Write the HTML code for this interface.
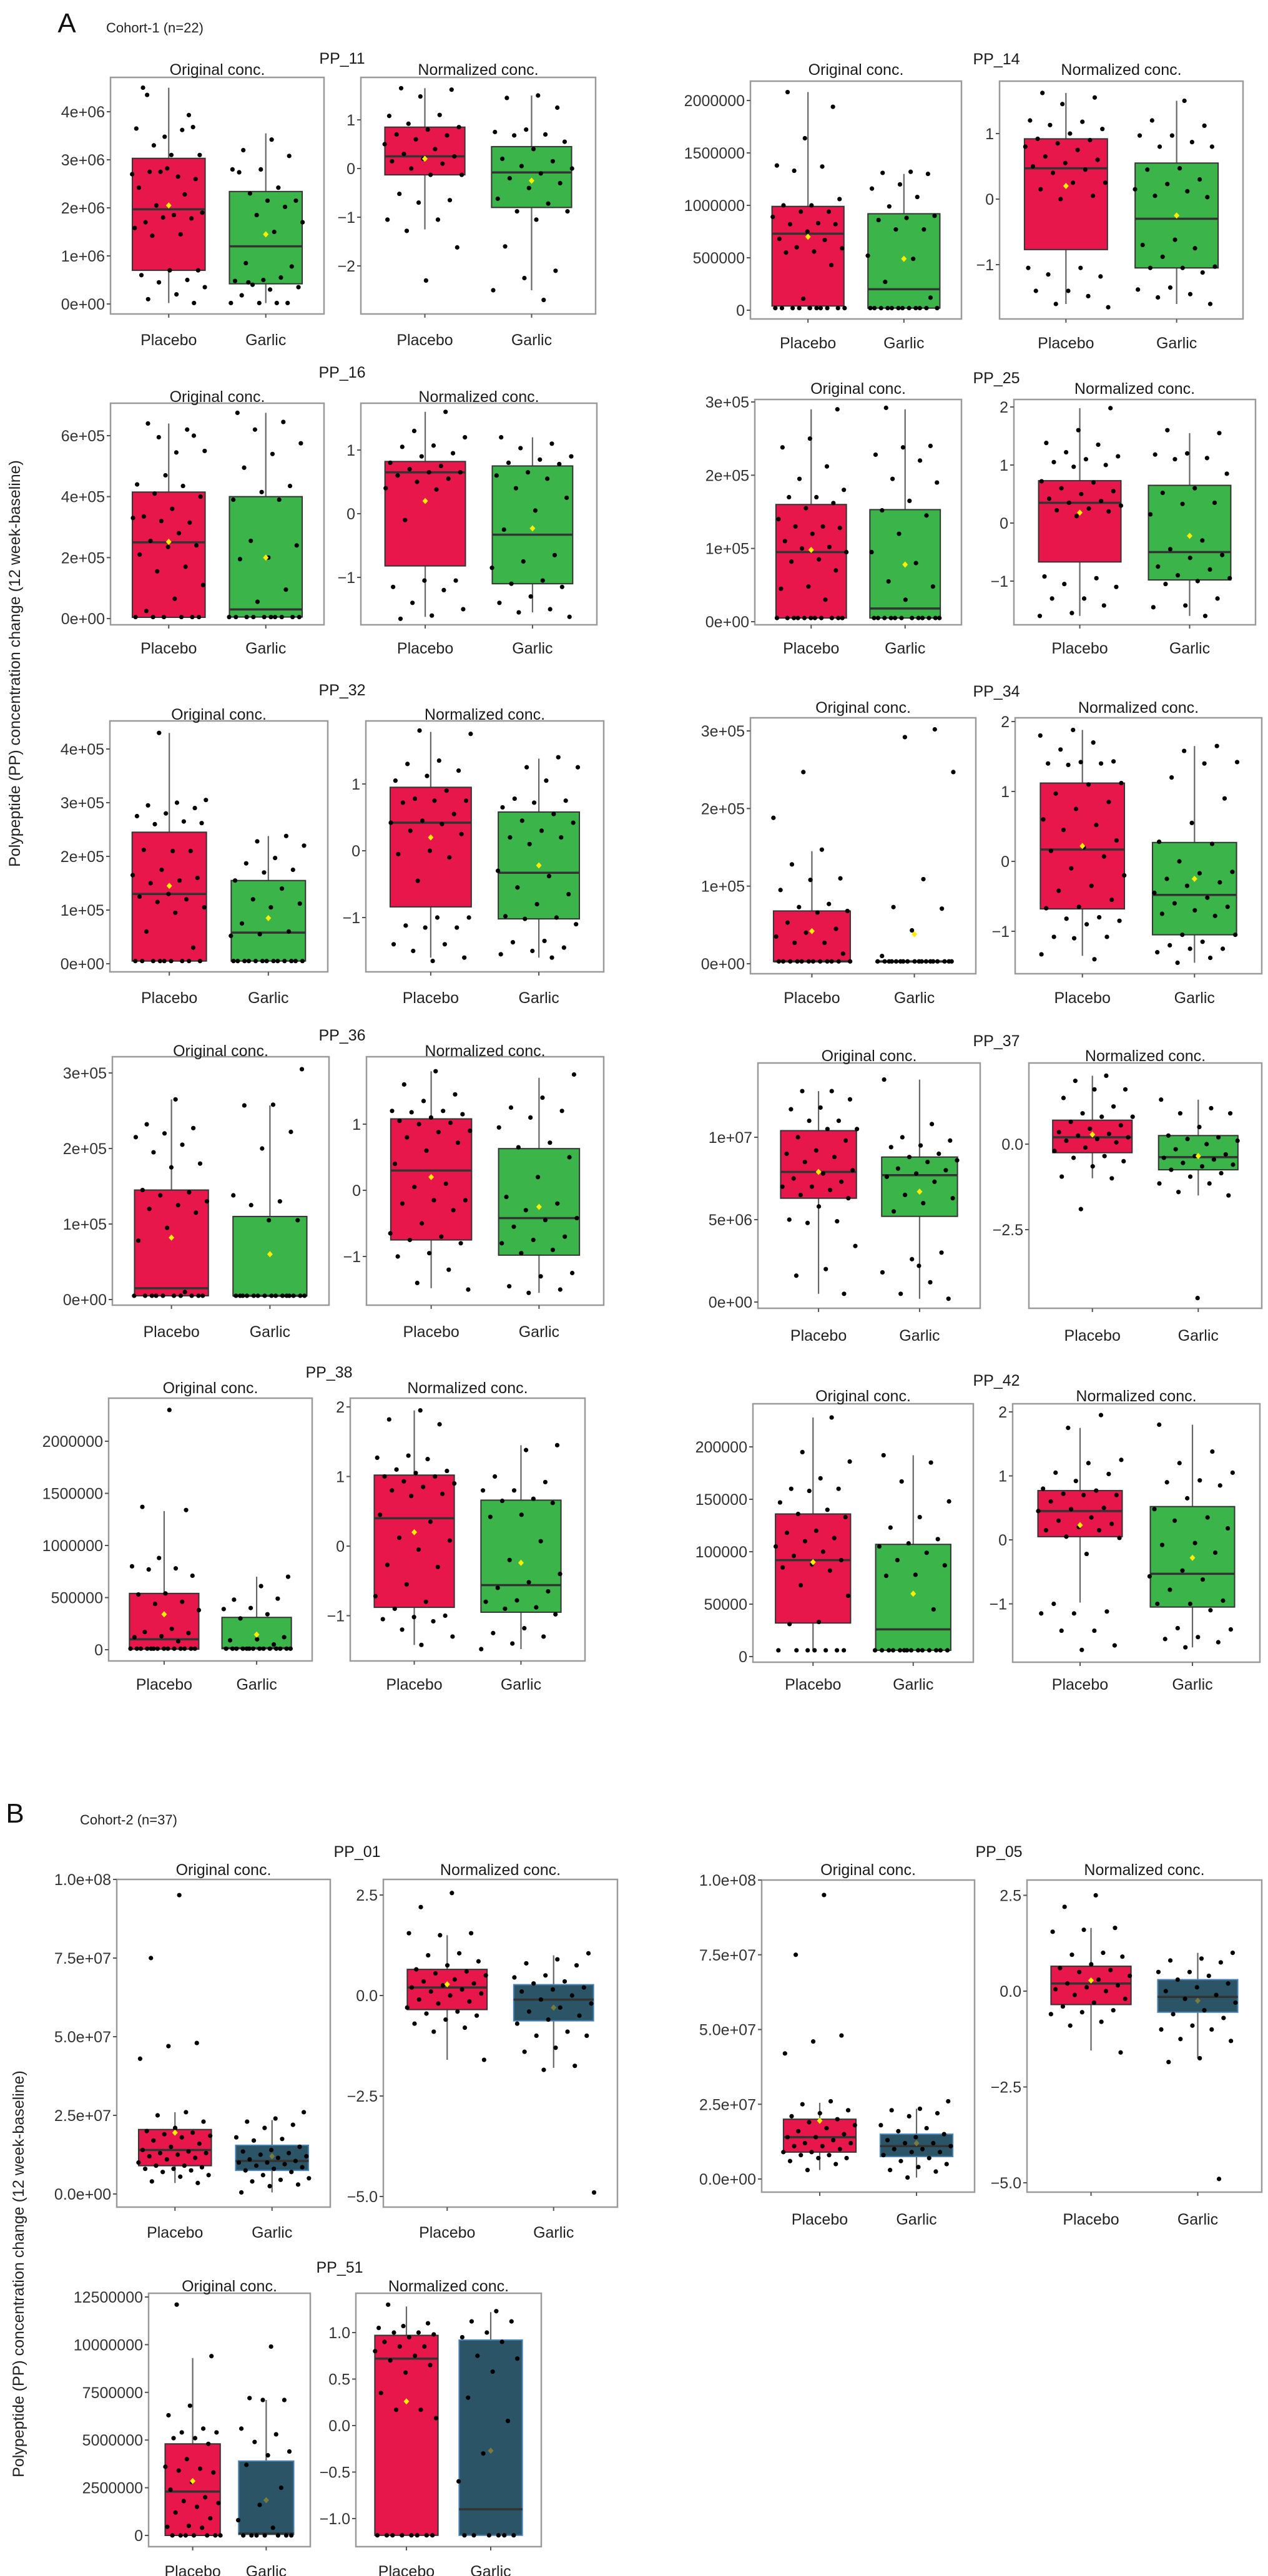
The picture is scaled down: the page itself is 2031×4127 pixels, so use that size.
<!DOCTYPE html>
<html><head><meta charset="utf-8">
<style>
html,body{margin:0;padding:0;background:#fff;}
svg{display:block;font-family:"Liberation Sans",Arial,sans-serif;}
</style></head>
<body>
<svg id="fig" width="2031" height="4127" viewBox="0 0 2031 4127" xmlns="http://www.w3.org/2000/svg">
<rect x="0" y="0" width="2031" height="4127" fill="#fff"/>
<text x="107" y="52" font-size="44" text-anchor="middle" fill="#111">A</text>
<text x="170" y="52" font-size="22" fill="#222">Cohort-1 (n=22)</text>
<text x="24" y="2920" font-size="44" text-anchor="middle" fill="#111">B</text>
<text x="128" y="2923" font-size="22" fill="#222">Cohort-2 (n=37)</text>
<text transform="translate(32,1063) rotate(-90)" font-size="25" text-anchor="middle" fill="#222">Polypeptide (PP) concentration change (12 week-baseline)</text>
<text transform="translate(38,3643) rotate(-90)" font-size="25" text-anchor="middle" fill="#222">Polypeptide (PP) concentration change (12 week-baseline)</text>
</svg>
<script>
// ---- data: box = [whiskerLow, q1, median, q3, whiskerHigh, mean] ----
const categories = ["Placebo","Garlic"];

const pp11_o_pl_box=[0.02,0.70,1.97,3.03,4.5,2.05];
const pp11_o_pl_pts=[4.35,3.68,3.48,3.65,3.62,3.3,3.1,3.1,4.5,3.93,2.75,2.7,2.65,2.75,2.6,2.82,2.42,2.28,2.05,1.9,1.85,1.7,1.78,1.8,1.58,1.45,1.42,0.7,0.7,0.6,0.5,0.45,0.35,0.2,0.1,0.02];
const pp11_o_ga_box=[0.02,0.42,1.2,2.34,3.55,1.45];
const pp11_o_ga_pts=[3.42,3.2,3.08,2.8,2.8,2.42,2.3,2.15,2.15,2.74,2.02,1.85,1.7,1.5,0.85,0.78,0.5,0.48,0.55,0.4,0.35,0.3,0.18,0.02,0.02,0.02,0.02,0.45];
const pp11_n_pl_box=[-1.25,-0.13,0.25,0.85,1.65,0.2];
const pp11_n_pl_pts=[1.65,1.62,1.48,1.08,1.1,0.92,0.85,0.8,0.7,0.68,0.6,0.5,0.4,0.3,0.25,0.2,0.15,0.1,0.0,-0.13,-0.13,-0.52,-0.65,-0.7,-1.05,-1.05,-1.28,-1.62,-2.3];
const pp11_n_ga_box=[-2.5,-0.8,-0.08,0.45,1.5,-0.25];
const pp11_n_ga_pts=[1.5,1.45,1.25,0.8,0.75,0.7,0.68,0.55,0.4,0.2,0.15,0.05,0.0,-0.1,-0.2,-0.3,-0.4,-0.62,-0.72,-0.88,-0.88,-1.05,-1.6,-2.1,-2.25,-2.5,-2.7];

const pp16_o_pl_box=[0.04,0.04,2.5,4.15,6.4,2.52];
const pp16_o_pl_pts=[6.2,5.95,5.5,5.45,6.4,6.0,4.7,4.4,4.35,4.1,4.0,3.6,3.35,3.15,3.2,3.3,2.8,2.55,2.4,2.35,2.1,1.7,1.55,1.1,0.65,0.25,0.05,0.05,0.05,0.05,0.05,0.05];
const pp16_o_ga_box=[0.05,0.05,0.3,4.0,6.75,2.0];
const pp16_o_ga_pts=[6.75,6.45,6.2,5.75,5.4,4.95,4.35,4.15,3.9,3.9,2.55,2.4,2.0,1.95,0.95,0.55,0.05,0.05,0.05,0.05,0.05,0.05,0.05,0.05,0.05,0.05];
const pp16_n_pl_box=[-1.62,-0.82,0.65,0.82,1.6,0.2];
const pp16_n_pl_pts=[1.6,1.3,1.2,1.07,1.05,0.95,0.9,0.8,0.75,0.7,0.65,0.65,0.6,0.55,0.5,0.4,0.38,-0.1,-1.05,-1.05,-1.15,-1.2,-1.4,-1.5,-1.6,-1.65];
const pp16_n_ga_box=[-1.55,-1.1,-0.33,0.75,1.2,-0.23];
const pp16_n_ga_pts=[1.2,1.1,1.03,0.9,0.85,0.8,0.78,0.65,0.6,0.55,0.4,0.25,0.05,-0.25,-0.65,-0.75,-0.85,-1.05,-1.1,-1.15,-1.3,-1.4,-1.5,-1.55,-1.62];

const pp32_o_pl_box=[0.05,0.05,1.3,2.45,4.3,1.45];
const pp32_o_pl_pts=[4.3,3.05,3.0,2.95,2.9,2.8,2.75,2.65,2.6,2.62,2.1,2.12,2.1,1.75,1.65,1.55,1.5,1.6,1.3,1.25,1.2,1.15,1.05,0.95,0.6,0.3,0.05,0.05,0.05,0.05,0.05,0.05,0.05,0.05,0.05];
const pp32_o_ga_box=[0.05,0.05,0.58,1.55,2.38,0.85];
const pp32_o_ga_pts=[2.38,2.28,2.2,1.97,1.87,1.75,1.7,1.55,1.4,1.2,1.12,1.05,0.75,0.6,0.55,0.52,0.05,0.05,0.05,0.05,0.05,0.05,0.05,0.05,0.05,0.05,0.05,0.05,0.05];
const pp32_n_pl_box=[-1.6,-0.84,0.42,0.95,1.78,0.2];
const pp32_n_pl_pts=[1.8,1.75,1.35,1.3,1.2,1.12,1.05,0.9,0.78,0.75,0.75,0.72,0.55,0.45,0.42,0.4,0.3,0.25,0.0,-0.05,-0.1,-0.45,-1.0,-1.0,-1.12,-1.15,-1.15,-1.4,-1.4,-1.5,-1.6,-1.65];
const pp32_n_ga_box=[-1.6,-1.02,-0.33,0.58,1.38,-0.22];
const pp32_n_ga_pts=[1.4,1.25,1.25,1.05,0.78,0.75,0.72,0.65,0.55,0.45,0.42,0.3,0.2,0.2,0.1,-0.3,-0.38,-0.55,-0.65,-0.8,-0.98,-1.0,-1.02,-1.1,-1.35,-1.37,-1.45,-1.5,-1.55,-1.6];

const pp36_o_pl_box=[0.05,0.05,0.15,1.45,2.65,0.82];
const pp36_o_pl_pts=[2.65,2.32,2.27,2.2,2.15,2.05,1.95,1.8,1.75,1.45,1.42,1.38,1.3,1.25,1.2,1.15,0.95,0.78,0.1,0.05,0.05,0.05,0.05,0.05,0.05,0.05,0.05,0.05,0.05];
const pp36_o_ga_box=[0.05,0.05,0.05,1.1,2.57,0.6];
const pp36_o_ga_pts=[3.05,2.58,2.57,2.22,2.0,1.38,1.3,1.25,1.05,1.05,0.05,0.05,0.05,0.05,0.05,0.05,0.05,0.05,0.05,0.05,0.05,0.05,0.05,0.05,0.05];
const pp36_n_pl_box=[-1.48,-0.75,0.3,1.08,1.8,0.2];
const pp36_n_pl_pts=[1.8,1.6,1.45,1.35,1.2,1.2,1.18,1.15,1.1,1.05,1.02,1.0,0.9,0.88,0.8,0.72,0.6,0.4,0.1,0.05,-0.15,-0.15,-0.2,-0.3,-0.5,-0.65,-0.7,-0.75,-0.8,-0.95,-1.0,-1.2,-1.4,-1.5];
const pp36_n_ga_box=[-1.55,-0.98,-0.42,0.63,1.7,-0.25];
const pp36_n_ga_pts=[1.75,1.4,1.25,1.2,1.1,0.95,0.72,0.65,0.5,0.2,-0.1,-0.2,-0.3,-0.42,-0.45,-0.55,-0.7,-0.75,-0.8,-0.9,-0.95,-1.25,-1.3,-1.45,-1.5,-1.55];

const pp38_o_pl_box=[0,0.05,1.0,5.4,13.3,3.4];
const pp38_o_pl_pts=[23,13.7,13.4,8.8,8.0,7.8,7.7,7.1,5.4,5.3,4.6,4.4,3.8,2.0,1.7,1.6,1.3,1.2,0.8,0.1,0.1,0.1,0.1,0.1,0.1,0.1,0.1,0.1,0.1,0.1,0.1,0.1,0.1];
const pp38_o_ga_box=[0,0.1,0.15,3.1,7.0,1.45];
const pp38_o_ga_pts=[7.0,6.1,4.8,4.9,4.0,3.9,3.4,3.0,1.2,1.0,0.9,0.5,0.1,0.1,0.1,0.1,0.1,0.1,0.1,0.1,0.1,0.1,0.1,0.1,0.1,0.1];
const pp38_n_pl_box=[-1.42,-0.88,0.4,1.02,1.95,0.2];
const pp38_n_pl_pts=[1.95,1.82,1.75,1.3,1.27,1.25,1.1,1.08,1.05,1.0,1.0,0.93,0.9,0.85,0.8,0.75,0.72,0.45,0.35,0.12,0.08,-0.05,-0.27,-0.3,-0.55,-0.72,-0.8,-0.9,-1.0,-1.02,-1.05,-1.08,-1.2,-1.3,-1.42];
const pp38_n_ga_box=[-1.48,-0.95,-0.56,0.66,1.45,-0.24];
const pp38_n_ga_pts=[1.45,1.38,1.0,0.92,0.8,0.8,0.68,0.65,0.62,0.45,0.42,0.07,-0.2,-0.4,-0.52,-0.6,-0.65,-0.78,-0.8,-0.88,-0.9,-0.98,-1.18,-1.25,-1.3,-1.4,-1.48];

const pp14_o_pl_box=[0.1,0.4,7.3,9.9,20.8,7.0];
const pp14_o_pl_pts=[20.8,19.4,16.4,13.8,13.7,13.3,10.6,10.0,10.0,9.4,9.4,8.9,8.3,8.2,8.2,7.5,6.8,6.7,6.0,5.9,5.6,5.5,4.3,1.1,0.2,0.2,0.2,0.2,0.2,0.2,0.2,0.2,0.2,0.2];
const pp14_o_ga_box=[0.2,0.2,2.0,9.2,13.0,4.9];
const pp14_o_ga_pts=[13.2,13.1,13.0,12.0,11.6,10.8,9.9,9.0,8.8,8.6,7.7,7.7,5.2,4.9,2.7,1.2,0.2,0.2,0.2,0.2,0.2,0.2,0.2,0.2,0.2,0.2,0.2,0.2];
const pp14_n_pl_box=[-1.6,-0.77,0.47,0.92,1.62,0.2];
const pp14_n_pl_pts=[1.62,1.55,1.45,1.2,1.18,1.13,1.07,1.0,0.92,0.9,0.85,0.8,0.75,0.65,0.6,0.55,0.5,0.45,0.4,0.25,0.25,0.15,0.05,0.0,-1.05,-1.05,-1.15,-1.18,-1.4,-1.4,-1.48,-1.6,-1.65];
const pp14_n_ga_box=[-1.6,-1.05,-0.3,0.55,1.5,-0.25];
const pp14_n_ga_pts=[1.5,1.2,1.12,0.97,0.97,0.87,0.8,0.8,0.47,0.45,0.3,0.23,0.15,0.12,0.05,0.03,-0.62,-0.7,-0.75,-0.88,-1.03,-1.05,-1.05,-1.12,-1.35,-1.38,-1.45,-1.5,-1.6];

const pp25_o_pl_box=[0.05,0.05,0.95,1.6,2.9,0.98];
const pp25_o_pl_pts=[2.9,2.5,2.38,2.12,1.95,1.8,1.7,1.7,1.62,1.55,1.4,1.3,1.3,1.28,1.2,1.1,1.02,1.0,0.95,0.85,0.82,0.7,0.48,0.45,0.3,0.05,0.05,0.05,0.05,0.05,0.05,0.05,0.05,0.05,0.05,0.05];
const pp25_o_ga_box=[0.05,0.05,0.18,1.53,2.9,0.78];
const pp25_o_ga_pts=[2.92,2.4,2.38,2.28,2.2,1.95,1.9,1.65,1.52,1.45,1.2,0.95,0.8,0.55,0.48,0.3,0.05,0.05,0.05,0.05,0.05,0.05,0.05,0.05,0.05,0.05,0.05,0.05];
const pp25_n_pl_box=[-1.6,-0.67,0.35,0.73,1.98,0.18];
const pp25_n_pl_pts=[1.98,1.6,1.38,1.35,1.22,1.15,1.1,1.05,1.0,0.97,0.72,0.7,0.6,0.55,0.5,0.42,0.38,0.35,0.3,0.25,0.22,0.2,0.12,-0.92,-0.95,-1.05,-1.1,-1.3,-1.3,-1.42,-1.55,-1.6];
const pp25_n_ga_box=[-1.6,-0.98,-0.5,0.65,1.55,-0.22];
const pp25_n_ga_pts=[1.6,1.55,1.2,1.18,1.12,1.1,0.85,0.6,0.52,0.35,0.33,0.15,-0.3,-0.45,-0.55,-0.6,-0.75,-0.8,-0.9,-0.95,-1.0,-1.05,-1.3,-1.42,-1.45,-1.6];

const pp34_o_pl_box=[0.03,0.03,0.03,0.68,1.45,0.42];
const pp34_o_pl_pts=[2.47,1.88,1.47,1.28,1.1,1.08,0.95,0.77,0.73,0.68,0.66,0.53,0.45,0.4,0.35,0.27,0.27,0.13,0.03,0.03,0.03,0.03,0.03,0.03,0.03,0.03,0.03,0.03,0.03,0.03];
const pp34_o_ga_box=[0.03,0.03,0.03,0.03,0.03,0.38];
const pp34_o_ga_pts=[3.02,2.92,2.47,1.09,0.73,0.71,0.43,0.1,0.03,0.03,0.03,0.03,0.03,0.03,0.03,0.03,0.03,0.03,0.03,0.03,0.03,0.03,0.03,0.03,0.03,0.03];
const pp34_n_pl_box=[-1.35,-0.68,0.17,1.12,1.88,0.22];
const pp34_n_pl_pts=[1.88,1.8,1.7,1.6,1.43,1.42,1.4,1.4,1.38,1.12,1.1,0.97,0.85,0.75,0.6,0.52,0.45,0.3,0.2,0.15,0.07,-0.1,-0.2,-0.35,-0.42,-0.55,-0.65,-0.67,-0.8,-0.82,-0.85,-0.9,-1.08,-1.08,-1.1,-1.33,-1.4];
const pp34_n_ga_box=[-1.45,-1.05,-0.48,0.27,1.65,-0.25];
const pp34_n_ga_pts=[1.65,1.58,1.42,1.4,1.2,0.9,0.55,0.28,0.25,0.0,-0.15,-0.17,-0.25,-0.3,-0.35,-0.45,-0.52,-0.6,-0.65,-0.7,-0.75,-0.78,-1.05,-1.05,-1.15,-1.2,-1.25,-1.25,-1.3,-1.38,-1.45];

const pp37_o_pl_box=[0.5,6.3,7.9,10.4,12.8,7.9];
const pp37_o_pl_pts=[12.8,12.8,12.3,11.8,11.7,11.0,11.0,10.5,10.5,10.0,9.8,9.2,9.0,8.8,8.5,8.0,7.8,7.5,7.3,7.0,7.0,6.8,6.5,6.3,5.8,5.0,4.9,4.8,3.4,2.0,1.6,0.5];
const pp37_o_ga_box=[0.2,5.2,7.7,8.8,13.5,6.7];
const pp37_o_ga_pts=[13.5,10.8,10.0,9.8,9.5,9.4,9.0,8.8,8.6,8.5,8.1,8.0,7.8,7.6,7.3,6.5,6.3,6.0,5.5,3.0,2.6,1.8,1.2,0.5,0.2,2.2];
const pp37_n_pl_box=[-1.0,-0.25,0.2,0.7,2.0,0.28];
const pp37_n_pl_pts=[2.0,1.85,1.6,1.6,1.35,1.1,0.9,0.8,0.8,0.65,0.55,0.45,0.35,0.3,0.25,0.2,0.15,0.1,0.05,-0.1,-0.2,-0.35,-0.4,-0.5,-0.65,-0.95,-1.0,-1.9];
const pp37_n_ga_box=[-1.5,-0.75,-0.38,0.25,1.3,-0.35];
const pp37_n_ga_pts=[1.3,1.05,0.9,0.9,0.5,0.25,0.2,0.15,0.1,0.0,-0.15,-0.3,-0.35,-0.4,-0.45,-0.55,-0.6,-0.65,-0.75,-0.85,-0.95,-1.15,-1.15,-1.4,-1.5,-4.5];

const pp42_o_pl_box=[0.6,3.2,9.2,13.6,22.8,9.0];
const pp42_o_pl_pts=[22.8,19.5,18.6,17.0,16.0,16.0,15.8,14.7,14.0,13.6,13.3,12.0,11.8,11.3,11.0,10.5,10.0,9.6,9.2,8.8,8.5,8.2,6.8,5.8,3.3,3.1,0.6,0.6,0.6,0.6,0.6,0.6,0.6];
const pp42_o_ga_box=[0.6,0.6,2.6,10.7,19.2,6.0];
const pp42_o_ga_pts=[19.2,18.5,16.7,14.8,13.3,12.3,11.2,10.8,10.5,9.9,9.2,8.7,7.8,7.7,4.5,0.6,0.6,0.6,0.6,0.6,0.6,0.6,0.6,0.6,0.6,0.6,0.6,0.6,0.6];
const pp42_n_pl_box=[-0.98,0.05,0.45,0.77,1.75,0.23];
const pp42_n_pl_pts=[1.95,1.75,1.25,1.2,1.05,1.03,0.92,0.8,0.77,0.72,0.7,0.7,0.6,0.5,0.48,0.45,0.35,0.3,0.25,0.2,0.15,0.15,0.05,0.03,-0.22,-1.0,-1.12,-1.15,-1.15,-1.42,-1.42,-1.65,-1.72];
const pp42_n_ga_box=[-1.68,-1.05,-0.53,0.52,1.8,-0.28];
const pp42_n_ga_pts=[1.8,1.38,1.2,1.05,0.93,0.9,0.85,0.65,0.48,0.35,0.3,0.18,-0.05,-0.08,-0.2,-0.48,-0.57,-0.62,-0.78,-0.95,-1.0,-1.0,-1.1,-1.38,-1.4,-1.52,-1.55,-1.6,-1.68];

const pp01_o_pl_box=[3.5,9,14,20.5,26,19.5];
const pp01_o_pl_pts=[95,75,48,47,43,26,25,23,21,20,19.5,19,18.5,18,17,16,15,14,13.5,13,13,12.5,12,11.5,11,10,9,9,8.5,8,8,7.5,7,6,5.5,4,3.5];
const pp01_o_ga_box=[0.5,7.5,10.5,15.5,23.5,12];
const pp01_o_ga_pts=[26,24,23,22,21,18,17.5,17,15,14,13.5,13,12.5,12,11.5,11,10.5,10,10,9.5,9,8.5,8,7.5,7,6,5,4.5,4,3,2.5,0.5];
const pp01_n_pl_box=[-1.6,-0.35,0.2,0.65,1.5,0.28];
const pp01_n_pl_pts=[2.55,2.2,1.55,1.5,1.55,1.05,1.0,0.85,0.75,0.65,0.6,0.55,0.5,0.4,0.35,0.3,0.25,0.2,0.15,0.1,0.05,0.0,-0.1,-0.15,-0.2,-0.3,-0.4,-0.45,-0.5,-0.6,-0.7,-0.8,-0.9,-1.6];
const pp01_n_ga_box=[-1.8,-0.63,-0.1,0.27,1.0,-0.3];
const pp01_n_ga_pts=[1.05,0.9,0.8,0.75,0.5,0.45,0.35,0.3,0.2,0.15,0.1,0.0,-0.1,-0.2,-0.3,-0.4,-0.5,-0.6,-0.7,-0.9,-1.0,-1.0,-1.3,-1.4,-1.75,-1.85,-4.9];

const pp05_o_pl_box=[3,9,14,20,25.5,19.5];
const pp05_o_pl_pts=[95,75,48,46,42,26,25,23,22,21,20,19,18,17,16,15,14,14,13,12,12,11,11,10,9,9,8,8,7,7,6,5,3];
const pp05_o_ga_box=[0.5,7.5,11,15,23.5,12];
const pp05_o_ga_pts=[26,23.5,23,22,21,18,17,16,15,14,13,12,12,11,10,10,9,9,8,7,6,5,4,3,2.5,0.5];
const pp05_n_pl_box=[-1.55,-0.35,0.2,0.65,1.65,0.28];
const pp05_n_pl_pts=[2.5,2.2,1.65,1.6,1.55,1.0,0.95,0.9,0.7,0.6,0.55,0.5,0.4,0.3,0.2,0.15,0.1,0.05,0.0,-0.1,-0.2,-0.3,-0.4,-0.5,-0.55,-0.6,-0.8,-0.9,-1.6];
const pp05_n_ga_box=[-1.75,-0.55,-0.15,0.3,1.0,-0.25];
const pp05_n_ga_pts=[1.0,0.85,0.8,0.75,0.5,0.5,0.4,0.3,0.2,0.1,0.0,-0.1,-0.2,-0.3,-0.5,-0.6,-0.7,-0.9,-1.0,-1.0,-1.25,-1.3,-1.75,-1.85,-4.9];

const pp51_o_pl_box=[0,0,2.3,4.8,9.3,2.85];
const pp51_o_pl_pts=[12.1,9.4,6.8,6.3,5.6,5.4,5.4,5.1,5.1,4.8,4.0,3.6,3.5,3.4,3.3,2.8,2.4,2.0,1.8,1.7,1.5,1.2,0.9,0.5,0.45,0.4,0,0,0,0,0,0,0];
const pp51_o_ga_box=[0,0.05,0.1,3.9,7.1,1.85];
const pp51_o_ga_pts=[9.9,7.2,7.1,7.1,5.6,5.3,4.9,4.4,4.2,3.7,2.5,1.6,0.8,0.4,0,0,0,0,0,0,0];
const pp51_n_pl_box=[-1.18,-1.18,0.72,0.97,1.28,0.26];
const pp51_n_pl_pts=[1.3,1.1,1.07,1.05,1.0,1.0,0.98,0.95,0.9,0.85,0.85,0.8,0.75,0.7,0.65,0.57,0.35,0.17,0.17,0.08,-1.18,-1.18,-1.18,-1.18,-1.18,-1.18,-1.18,-1.18];
const pp51_n_ga_box=[-1.18,-1.18,-0.9,0.92,1.22,-0.27];
const pp51_n_ga_pts=[1.23,1.12,1.12,1.0,0.95,0.9,0.75,0.72,0.58,0.3,0.05,-0.3,-0.6,-1.18,-1.18,-1.18,-1.18,-1.18,-1.18];

// tick values (raw) and printed labels
const tk_e6_4=[0,1e6,2e6,3e6,4e6]; const tl_e6_4=["0e+00","1e+06","2e+06","3e+06","4e+06"];
const tk_n_m2_1=[-2,-1,0,1]; const tl_n_m2_1=["\u22122","\u22121","0","1"];
const tk_n_m1_1=[-1,0,1]; const tl_n_m1_1=["\u22121","0","1"];
const tk_n_m1_2=[-1,0,1,2]; const tl_n_m1_2=["\u22121","0","1","2"];
const tk_e5_6=[0,2e5,4e5,6e5]; const tl_e5_6=["0e+00","2e+05","4e+05","6e+05"];
const tk_e5_4=[0,1e5,2e5,3e5,4e5]; const tl_e5_4=["0e+00","1e+05","2e+05","3e+05","4e+05"];
const tk_e5_3=[0,1e5,2e5,3e5]; const tl_e5_3=["0e+00","1e+05","2e+05","3e+05"];
const tk_2m=[0,5e5,1e6,1.5e6,2e6]; const tl_2m=["0","500000","1000000","1500000","2000000"];
const tk_e7=[0,5e6,1e7]; const tl_e7=["0e+00","5e+06","1e+07"];
const tk_n_37=[-2.5,0]; const tl_n_37=["\u22122.5","0.0"];
const tk_200k=[0,5e4,1e5,1.5e5,2e5]; const tl_200k=["0","50000","100000","150000","200000"];
const tk_e8=[0,2.5e7,5e7,7.5e7,1e8]; const tl_e8=["0.0e+00","2.5e+07","5.0e+07","7.5e+07","1.0e+08"];
const tk_n_b=[-5,-2.5,0,2.5]; const tl_n_b=["\u22125.0","\u22122.5","0.0","2.5"];
const tk_125=[0,2.5e6,5e6,7.5e6,1e7,1.25e7]; const tl_125=["0","2500000","5000000","7500000","10000000","12500000"];
const tk_n_51=[-1,-0.5,0,0.5,1]; const tl_n_51=["\u22121.0","\u22120.5","0.0","0.5","1.0"];

// ---- layout (pixel geometry, not data) ----
const RED="#e8174b", GREEN="#3bb54a", TEAL="#2b5566";
function G(box,pts,fill,stroke){return {box:box,pts:pts,fill:fill,stroke:stroke||"#333"};}
const panels=[
 {id:"pp11",pp:"PP_11",ppx:548,ppy:93,ty:111,xly:544,
  o:{rect:[177,124,519,503],anc:[4e6,179,0,487],unit:1e6,tk:tk_e6_4,tl:tl_e6_4,g:[G(pp11_o_pl_box,pp11_o_pl_pts,RED),G(pp11_o_ga_box,pp11_o_ga_pts,GREEN)]},
  n:{rect:[578,124,954,503],anc:[1,192,0,270],unit:1,tk:tk_n_m2_1,tl:tl_n_m2_1,g:[G(pp11_n_pl_box,pp11_n_pl_pts,RED),G(pp11_n_ga_box,pp11_n_ga_pts,GREEN)]}},
 {id:"pp16",pp:"PP_16",ppx:548,ppy:596,ty:635,xly:1038,
  o:{rect:[177,646,519,1001],anc:[6e5,698,0,991],unit:1e5,tk:tk_e5_6,tl:tl_e5_6,g:[G(pp16_o_pl_box,pp16_o_pl_pts,RED),G(pp16_o_ga_box,pp16_o_ga_pts,GREEN)]},
  n:{rect:[578,646,956,1001],anc:[1,721,0,823],unit:1,tk:tk_n_m1_1,tl:tl_n_m1_1,g:[G(pp16_n_pl_box,pp16_n_pl_pts,RED),G(pp16_n_ga_box,pp16_n_ga_pts,GREEN)]}},
 {id:"pp32",pp:"PP_32",ppx:548,ppy:1105,ty:1144,xly:1598,
  o:{rect:[176,1155,525,1557],anc:[4e5,1200,0,1544],unit:1e5,tk:tk_e5_4,tl:tl_e5_4,g:[G(pp32_o_pl_box,pp32_o_pl_pts,RED),G(pp32_o_ga_box,pp32_o_ga_pts,GREEN)]},
  n:{rect:[586,1155,967,1557],anc:[1,1256,0,1363],unit:1,tk:tk_n_m1_1,tl:tl_n_m1_1,g:[G(pp32_n_pl_box,pp32_n_pl_pts,RED),G(pp32_n_ga_box,pp32_n_ga_pts,GREEN)]}},
 {id:"pp36",pp:"PP_36",ppx:548,ppy:1658,ty:1683,xly:2133,
  o:{rect:[180,1693,527,2091],anc:[3e5,1719,0,2082],unit:1e5,tk:tk_e5_3,tl:tl_e5_3,g:[G(pp36_o_pl_box,pp36_o_pl_pts,RED),G(pp36_o_ga_box,pp36_o_ga_pts,GREEN)]},
  n:{rect:[587,1693,967,2091],anc:[1,1801,0,1907],unit:1,tk:tk_n_m1_1,tl:tl_n_m1_1,g:[G(pp36_n_pl_box,pp36_n_pl_pts,RED),G(pp36_n_ga_box,pp36_n_ga_pts,GREEN)]}},
 {id:"pp38",pp:"PP_38",ppx:527,ppy:2198,ty:2223,xly:2698,
  o:{rect:[174,2240,500,2661],anc:[2e6,2309,0,2643],unit:1e5,tk:tk_2m,tl:tl_2m,g:[G(pp38_o_pl_box,pp38_o_pl_pts,RED),G(pp38_o_ga_box,pp38_o_ga_pts,GREEN)]},
  n:{rect:[561,2240,937,2661],anc:[2,2254,0,2477],unit:1,tk:tk_n_m1_2,tl:tl_n_m1_2,g:[G(pp38_n_pl_box,pp38_n_pl_pts,RED),G(pp38_n_ga_box,pp38_n_ga_pts,GREEN)]}},
 {id:"pp14",pp:"PP_14",ppx:1596,ppy:94,ty:111,xly:549,
  o:{rect:[1202,130,1540,511],anc:[2e6,161,0,497],unit:1e5,tk:tk_2m,tl:tl_2m,g:[G(pp14_o_pl_box,pp14_o_pl_pts,RED),G(pp14_o_ga_box,pp14_o_ga_pts,GREEN)]},
  n:{rect:[1601,130,1991,511],anc:[1,214,0,319],unit:1,tk:tk_n_m1_1,tl:tl_n_m1_1,g:[G(pp14_n_pl_box,pp14_n_pl_pts,RED),G(pp14_n_ga_box,pp14_n_ga_pts,GREEN)]}},
 {id:"pp25",pp:"PP_25",ppx:1596,ppy:605,ty:622,xly:1038,
  o:{rect:[1209,640,1540,1001],anc:[3e5,644,0,996],unit:1e5,tk:tk_e5_3,tl:tl_e5_3,g:[G(pp25_o_pl_box,pp25_o_pl_pts,RED),G(pp25_o_ga_box,pp25_o_ga_pts,GREEN)]},
  n:{rect:[1624,640,2011,1001],anc:[2,652,0,838],unit:1,tk:tk_n_m1_2,tl:tl_n_m1_2,g:[G(pp25_n_pl_box,pp25_n_pl_pts,RED),G(pp25_n_ga_box,pp25_n_ga_pts,GREEN)]}},
 {id:"pp34",pp:"PP_34",ppx:1596,ppy:1107,ty:1133,xly:1598,
  o:{rect:[1202,1150,1563,1560],anc:[3e5,1171,0,1544],unit:1e5,tk:tk_e5_3,tl:tl_e5_3,g:[G(pp34_o_pl_box,pp34_o_pl_pts,RED),G(pp34_o_ga_box,pp34_o_ga_pts,GREEN)]},
  n:{rect:[1626,1150,2021,1560],anc:[2,1156,0,1380],unit:1,tk:tk_n_m1_2,tl:tl_n_m1_2,g:[G(pp34_n_pl_box,pp34_n_pl_pts,RED),G(pp34_n_ga_box,pp34_n_ga_pts,GREEN)]}},
 {id:"pp37",pp:"PP_37",ppx:1596,ppy:1667,ty:1691,xly:2139,
  o:{rect:[1214,1703,1570,2096],anc:[1e7,1822,0,2086],unit:1e6,tk:tk_e7,tl:tl_e7,g:[G(pp37_o_pl_box,pp37_o_pl_pts,RED),G(pp37_o_ga_box,pp37_o_ga_pts,GREEN)]},
  n:{rect:[1648,1703,2021,2096],anc:[0,1833,-2.5,1970],unit:1,tk:tk_n_37,tl:tl_n_37,g:[G(pp37_n_pl_box,pp37_n_pl_pts,RED),G(pp37_n_ga_box,pp37_n_ga_pts,GREEN)]}},
 {id:"pp42",pp:"PP_42",ppx:1596,ppy:2211,ty:2236,xly:2698,
  o:{rect:[1206,2249,1559,2663],anc:[2e5,2318,0,2654],unit:1e4,tk:tk_200k,tl:tl_200k,g:[G(pp42_o_pl_box,pp42_o_pl_pts,RED),G(pp42_o_ga_box,pp42_o_ga_pts,GREEN)]},
  n:{rect:[1622,2249,2018,2663],anc:[2,2262,0,2467],unit:1,tk:tk_n_m1_2,tl:tl_n_m1_2,g:[G(pp42_n_pl_box,pp42_n_pl_pts,RED),G(pp42_n_ga_box,pp42_n_ga_pts,GREEN)]}},
 {id:"pp01",pp:"PP_01",ppx:572,ppy:2966,ty:2995,xly:3576,
  o:{rect:[187,3011,529,3536],anc:[1e8,3011,0,3515],unit:1e6,tk:tk_e8,tl:tl_e8,g:[G(pp01_o_pl_box,pp01_o_pl_pts,RED),G(pp01_o_ga_box,pp01_o_ga_pts,TEAL,"#4a82b4")]},
  n:{rect:[614,3011,989,3536],anc:[0,3197,-2.5,3358],unit:1,tk:tk_n_b,tl:tl_n_b,g:[G(pp01_n_pl_box,pp01_n_pl_pts,RED),G(pp01_n_ga_box,pp01_n_ga_pts,TEAL,"#4a82b4")]}},
 {id:"pp05",pp:"PP_05",ppx:1600,ppy:2966,ty:2995,xly:3555,
  o:{rect:[1220,3012,1561,3512],anc:[1e8,3012,0,3491],unit:1e6,tk:tk_e8,tl:tl_e8,g:[G(pp05_o_pl_box,pp05_o_pl_pts,RED),G(pp05_o_ga_box,pp05_o_ga_pts,TEAL,"#4a82b4")]},
  n:{rect:[1645,3012,2021,3512],anc:[0,3190,-5,3497],unit:1,tk:tk_n_b,tl:tl_n_b,g:[G(pp05_n_pl_box,pp05_n_pl_pts,RED),G(pp05_n_ga_box,pp05_n_ga_pts,TEAL,"#4a82b4")]}},
 {id:"pp51",pp:"PP_51",ppx:544,ppy:3632,ty:3662,xly:4119,
  o:{rect:[238,3674,497,4080],anc:[1.25e7,3680,0,4062],unit:1e6,tk:tk_125,tl:tl_125,g:[G(pp51_o_pl_box,pp51_o_pl_pts,RED),G(pp51_o_ga_box,pp51_o_ga_pts,TEAL,"#4a82b4")]},
  n:{rect:[570,3674,867,4080],anc:[1,3737,0,3886],unit:1,tk:tk_n_51,tl:tl_n_51,g:[G(pp51_n_pl_box,pp51_n_pl_pts,RED),G(pp51_n_ga_box,pp51_n_ga_pts,TEAL,"#4a82b4")]}}
];

const NS="http://www.w3.org/2000/svg";
const svg=document.getElementById("fig");
function mk(parent,tag,attrs,text){const e=document.createElementNS(NS,tag);for(const k in attrs)e.setAttribute(k,attrs[k]);if(text!==undefined)e.textContent=text;parent.appendChild(e);return e;}

function drawSub(P,S,kind,xly){
  const [x0,y0,x1,y1]=S.rect, [v0,p0,v1,p1]=S.anc;
  const yS=v=>p0+(v-v0)*(p1-p0)/(v1-v0);
  const w=x1-x0;
  const cx=[x0+w*0.2727,x0+w*0.7273], bw=w*0.3409;
  const grp=mk(svg,"g",{});
  
  
  const frame=mk(grp,"rect",{x:x0,y:y0,width:w,height:y1-y0,fill:"#fff",stroke:"#9a9a9a","stroke-width":2.5});
  
  
  const title=mk(grp,"text",{x:(x0+x1)/2,y:P.ty+9,"font-size":25,"text-anchor":"middle",fill:"#1a1a1a"},kind==="orig"?"Original conc.":"Normalized conc.");
  
  
  S.tk.forEach((t,i)=>{
    const yy=yS(t);
    const tm=mk(grp,"line",{x1:x0-6,x2:x0,y1:yy,y2:yy,stroke:"#555","stroke-width":2});
    
    
    const tl=mk(grp,"text",{x:x0-9,y:yy+9,"font-size":25,"text-anchor":"end",fill:"#333"},S.tl[i]);
    
    
  });
  S.g.forEach((g,gi)=>{
    const c=cx[gi];
    const [lo,q1,md,q3,hi,mean]=g.box.map(v=>v*S.unit);
    const wl=mk(grp,"line",{x1:c,x2:c,y1:yS(hi),y2:yS(lo),stroke:"#666","stroke-width":2.2});
    
    
    const bx=mk(grp,"rect",{x:c-bw/2,y:yS(q3),width:bw,height:Math.max(1,yS(q1)-yS(q3)),fill:g.fill,stroke:g.stroke,"stroke-width":2});
    
    
    const ml=mk(grp,"line",{x1:c-bw/2,x2:c+bw/2,y1:yS(md),y2:yS(md),stroke:"#333","stroke-width":3.5});
    
    
    g.pts.forEach((v,i)=>{
      const j=(((i*0.6180339+gi*0.37+P.ppy*0.013)%1)-0.5)*bw*1.02;
      const d=mk(grp,"circle",{cx:c+j,cy:yS(v*S.unit),r:3.6,fill:"#000"});
      
      
    });
    const my=yS(mean);
    const mn=mk(grp,"path",{d:`M${c} ${my-5}L${c+4.5} ${my}L${c} ${my+5}L${c-4.5} ${my}Z`,fill:g.fill===TEAL?"#7a7a3a":"#ffee00"});
    
    
    const xt=mk(grp,"line",{x1:c,x2:c,y1:y1,y2:y1+6,stroke:"#555","stroke-width":2});
    
    
    const xl=mk(grp,"text",{x:c,y:xly+9,"font-size":25,"text-anchor":"middle",fill:"#222"},categories[gi]);
    
    
  });
}
panels.forEach(P=>{
  const lab=mk(svg,"text",{x:P.ppx,y:P.ppy+9,"font-size":25,"text-anchor":"middle",fill:"#1a1a1a"},P.pp);
  
  
  drawSub(P,P.o,"orig",P.xly);
  drawSub(P,P.n,"norm",P.xly);
});
</script>
</body></html>
